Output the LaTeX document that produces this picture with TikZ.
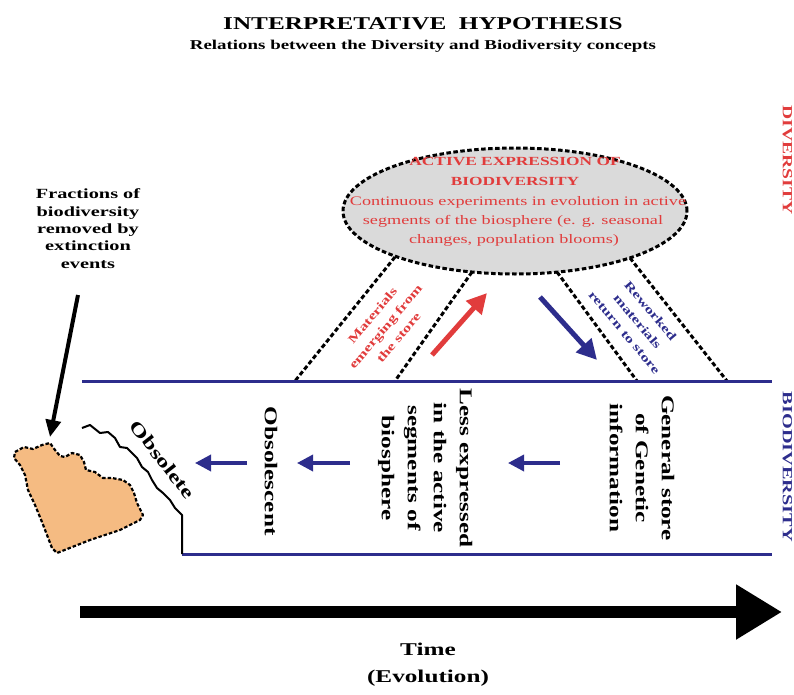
\documentclass[tikz,border=0pt]{standalone}
\usepackage{fontspec}
\setmainfont{Liberation Serif}
\usepackage{graphicx}
\usetikzlibrary{arrows.meta,shapes.geometric}
\definecolor{navy}{RGB}{45,45,140}
\definecolor{redt}{RGB}{225,60,60}
\definecolor{ellfill}{RGB}{218,218,218}
\definecolor{orangefill}{RGB}{245,187,130}
\newcommand\blk[4]{\scalebox{#1}[1]{\fontsize{#2}{#3}\selectfont\begin{tabular}{@{}c@{}}#4\end{tabular}}}
\begin{document}
\begin{tikzpicture}[x=1pt,y=-1pt,
  txt/.style={inner sep=0pt,font=\bfseries},
  rtxt/.style={inner sep=0pt},
  dashln/.style={line width=3pt,dash pattern=on 4.5pt off 2.5pt},
  band/.style={draw=navy,line width=3pt},
  leftarr/.style={navy,line width=3.5pt,-{Triangle[length=16pt,width=16pt]}},
  ]
\useasboundingbox (0,0) rectangle (794,695);
% titles
\node[txt,anchor=base] (title) at (423,30) {\scalebox{1.4}[1]{\fontsize{18}{20}\selectfont INTERPRETATIVE\ \ HYPOTHESIS}};
\node[txt,anchor=base] (sub) at (423,50) {\scalebox{1.4}[1]{\fontsize{13.5}{15}\selectfont Relations between the Diversity and Biodiversity concepts}};
% dashed connectors
\coordinate (a1) at (395,257); \coordinate (b1) at (295,381);
\coordinate (a2) at (472,272); \coordinate (b2) at (395,381);
\coordinate (a3) at (557,272); \coordinate (b3) at (637,381);
\coordinate (a4) at (630,258); \coordinate (b4) at (727,381);
\draw[dashln] (a1) -- (b1);
\draw[dashln] (a2) -- (b2);
\draw[dashln] (a3) -- (b3);
\draw[dashln] (a4) -- (b4);
% ellipse
\node[ellipse,draw,dashln,fill=ellfill,minimum width=344pt,minimum height=126pt,inner sep=0pt] (ell) at (515,211) {};
\node[txt,anchor=base,text=redt] (e1) at (515,165) {\scalebox{1.4}[1]{\fontsize{12.4}{14}\selectfont ACTIVE EXPRESSION OF}};
\node[txt,anchor=base,text=redt] (e2) at (515,185) {\scalebox{1.4}[1]{\fontsize{12.4}{14}\selectfont BIODIVERSITY}};
\node[rtxt,anchor=base,text=redt] (e3) at (518,205) {\scalebox{1.4}[1]{\fontsize{13}{14}\selectfont Continuous experiments in evolution in active}};
\node[rtxt,anchor=base,text=redt] (e4) at (513,224) {\scalebox{1.4}[1]{\fontsize{13}{14}\selectfont segments of the biosphere (e. g. seasonal}};
\node[rtxt,anchor=base,text=redt] (e5) at (514,243) {\scalebox{1.4}[1]{\fontsize{13}{14}\selectfont changes, population blooms)}};
% band lines
\coordinate (t1) at (82,381); \coordinate (t2) at (772,381);
\coordinate (u1) at (182,554); \coordinate (u2) at (772,554);
\draw[band] (t1) -- (t2);
\draw[band] (u1) -- (u2);
% red and blue diagonal arrows
\coordinate (ra) at (432,355); \coordinate (rb) at (487,293);
\coordinate (ba) at (540,297); \coordinate (bb) at (597,360);
\draw[redt,line width=5pt,-{Triangle[length=20pt,width=20pt]}] (ra) -- (rb);
\draw[navy,line width=5pt,-{Triangle[length=20pt,width=20pt]}] (ba) -- (bb);
\node[txt,text=redt,rotate=50] (mat) at (386,327) {\blk{1.4}{12}{17}{Materials\\emerging from\\the store}};
\node[txt,text=navy,rotate=-50] (rew) at (637,322) {\blk{1.4}{12}{17}{Reworked\\materials\\return to store}};
% vertical texts
\node[txt,rotate=-90] (gen) at (641,468) {\blk{1.4}{18}{26}{General store\\of Genetic\\information}};
\node[txt,rotate=-90] (less) at (426,468) {\blk{1.4}{18}{26}{Less expressed\\in the active\\segments of\\biosphere}};
\node[txt,rotate=-90] (obs) at (270,471) {\blk{1.4}{18}{26}{Obsolescent}};
% left arrows
\coordinate (l1a) at (247,463); \coordinate (l1b) at (195,463);
\coordinate (l2a) at (350,463); \coordinate (l2b) at (297,463);
\coordinate (l3a) at (560,463); \coordinate (l3b) at (508,463);
\draw[leftarr] (l1a) -- (l1b);
\draw[leftarr] (l2a) -- (l2b);
\draw[leftarr] (l3a) -- (l3b);
% right labels
\node[txt,rotate=-90,text=redt] (div) at (786,160) {\blk{1.4}{14}{16}{DIVERSITY}};
\node[txt,rotate=-90,text=navy] (biod) at (786,467) {\blk{1.45}{14}{16}{BIODIVERSITY}};
% wavy obsolete boundary
\draw[line width=2pt,line join=round] (82,428) -- (90,425) -- (100,433) -- (108,432) -- (115,438) -- (120,447) -- (127,448) -- (137,458) -- (142,467) -- (148,472) -- (152,480) -- (157,488) -- (163,493) -- (170,500) -- (175,508) -- (182,515) -- (u1);
\node[txt,rotate=-52] (obt) at (161,461) {\blk{1.4}{18}{20}{Obsolete}};
% extinct blob
\draw[fill=orangefill,line width=2.2pt,dash pattern=on 3.5pt off 2pt,line join=round]
 (15,452) -- (24,447) -- (33,449) -- (42,445) -- (50,443) -- (55,450) -- (60,456) -- (65,457) -- (72,453) -- (80,455) -- (84,462) -- (86,470) -- (95,472) -- (103,478) -- (112,478) -- (123,480) -- (130,485) -- (134,493) -- (137,503) -- (143,515) -- (140,520) -- (120,530) -- (90,540) -- (57,553) -- (52,548) -- (47,535) -- (42,522) -- (35,505) -- (28,490) -- (25,475) -- (20,465) -- (14,458) -- cycle;
% fractions label + arrow
\node[txt] (frac) at (88,230) {\blk{1.45}{14}{17.3}{Fractions of\\biodiversity\\removed by\\extinction\\events}};
\coordinate (ka) at (78,295); \coordinate (kb) at (50,437);
\draw[line width=4pt,-{Triangle[length=17pt,width=15pt]}] (ka) -- (kb);
% time arrow
\coordinate (ta) at (80,612); \coordinate (tb) at (782,612);
\draw[line width=12pt,-{Triangle[length=46pt,width=52pt]}] (ta) -- (tb);
\node[txt] (time) at (428,664) {\blk{1.4}{18}{27}{Time\\(Evolution)}};
\end{tikzpicture}
\end{document}
